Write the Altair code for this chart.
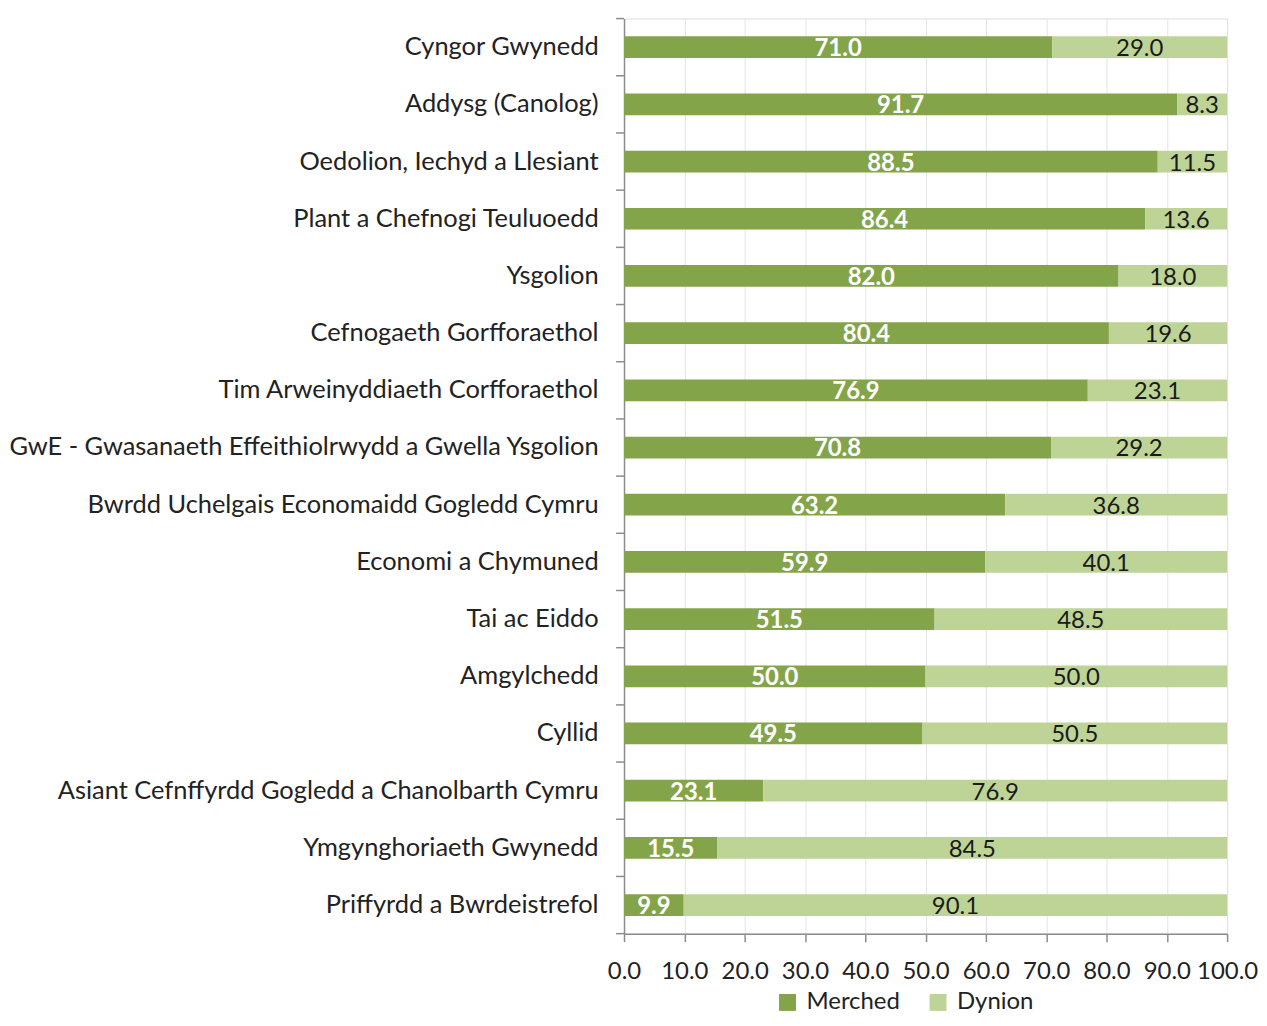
import altair as alt
import pandas as pd

categories = [
    "Cyngor Gwynedd",
    "Addysg (Canolog)",
    "Oedolion, Iechyd a Llesiant",
    "Plant a Chefnogi Teuluoedd",
    "Ysgolion",
    "Cefnogaeth Gorfforaethol",
    "Tim Arweinyddiaeth Corfforaethol",
    "GwE - Gwasanaeth Effeithiolrwydd a Gwella Ysgolion",
    "Bwrdd Uchelgais Economaidd Gogledd Cymru",
    "Economi a Chymuned",
    "Tai ac Eiddo",
    "Amgylchedd",
    "Cyllid",
    "Asiant Cefnffyrdd Gogledd a Chanolbarth Cymru",
    "Ymgynghoriaeth Gwynedd",
    "Priffyrdd a Bwrdeistrefol",
]
merched = [71.0, 91.7, 88.5, 86.4, 82.0, 80.4, 76.9, 70.8, 63.2, 59.9, 51.5, 50.0, 49.5, 23.1, 15.5, 9.9]
dynion = [29.0, 8.3, 11.5, 13.6, 18.0, 19.6, 23.1, 29.2, 36.8, 40.1, 48.5, 50.0, 50.5, 76.9, 84.5, 90.1]
series = ["Merched", "Dynion"]
colors = ["#84A44A", "#BED497"]

rows = []
for c, m, d in zip(categories, merched, dynion):
    rows.append({"cat": c, "series": "Merched", "value": m, "ord": 0})
    rows.append({"cat": c, "series": "Dynion", "value": d, "ord": 1})
df = pd.DataFrame(rows)

FONT = "Lato"
H = 918
STEP = H / 16.0
HALF_GAP = 0.62 * STEP / 2.0
AXIS_GREY = "#8c8c8c"

base = alt.Chart(df).transform_stack(
    stack="value", groupby=["cat"], as_=["x0", "x1"], sort=[alt.SortField("ord")]
).transform_calculate(mid="(datum.x0 + datum.x1) / 2")

yscale = alt.Scale(paddingInner=0.62, paddingOuter=0.31)

y_enc = alt.Y(
    "cat:N",
    sort=categories,
    title=None,
    scale=yscale,
    axis=alt.Axis(
        labelFont=FONT, labelFontSize=25.5, labelColor="#222222", labelPadding=18,
        tickSize=8, tickOpacity=0, domainColor=AXIS_GREY,
        domainWidth=1.5, grid=False, labelLimit=800,
    ),
)

bars = base.mark_bar().encode(
    x=alt.X(
        "x0:Q",
        title=None,
        scale=alt.Scale(domain=[0, 100], nice=False),
        axis=alt.Axis(
            values=[0, 10, 20, 30, 40, 50, 60, 70, 80, 90, 100], format=".1f",
            labelFont=FONT, labelFontSize=24, labelColor="#222222", labelPadding=18,
            tickSize=8, tickColor=AXIS_GREY, domainColor=AXIS_GREY,
            domainWidth=1.5, tickWidth=1.5, grid=True, gridColor="#e4e4e4",
            labelFlush=False,
        ),
    ),
    x2="x1:Q",
    y=y_enc,
    color=alt.Color(
        "series:N",
        scale=alt.Scale(domain=series, range=colors),
        legend=alt.Legend(
            title=None, orient="none", direction="horizontal",
            legendX=152, legendY=975,
            symbolType="square", symbolSize=289, symbolStrokeWidth=0,
            labelFont=FONT, labelFontSize=24, labelColor="#222222",
            columnPadding=26, labelOffset=7,
        ),
    ),
    order=alt.Order("ord:Q"),
)

tick_src = base.transform_filter("datum.series == 'Merched'")

ticks_below = tick_src.mark_rule(
    color=AXIS_GREY, strokeWidth=1.5, yOffset=HALF_GAP
).encode(
    x=alt.value(-8), x2=alt.value(0),
    y=alt.Y("cat:N", sort=categories, bandPosition=1),
)

ticks_top = tick_src.transform_filter(
    alt.datum.cat == categories[0]
).mark_rule(color=AXIS_GREY, strokeWidth=1.5, yOffset=-HALF_GAP).encode(
    x=alt.value(-8), x2=alt.value(0),
    y=alt.Y("cat:N", sort=categories, bandPosition=0),
)

text_m = base.transform_filter("datum.series == 'Merched'").mark_text(
    font=FONT, fontSize=24, fontWeight="bold", color="white", baseline="middle", dy=2
).encode(x="mid:Q", y=alt.Y("cat:N", sort=categories), text=alt.Text("value:Q", format=".1f"))

text_d = base.transform_filter("datum.series == 'Dynion'").mark_text(
    font=FONT, fontSize=24, color="#1a1a1a", baseline="middle", dy=2
).encode(x="mid:Q", y=alt.Y("cat:N", sort=categories), text=alt.Text("value:Q", format=".1f"))

chart = alt.layer(bars, ticks_below, ticks_top, text_m, text_d).properties(
    width=605, height=H,
    autosize=alt.AutoSizeParams(type="none"),
    padding={"left": 618, "top": 9, "right": 32, "bottom": 83},
).configure_view(stroke=None).configure(background="white")

chart.save("out.html", embed_options={"renderer": "svg", "actions": False})
